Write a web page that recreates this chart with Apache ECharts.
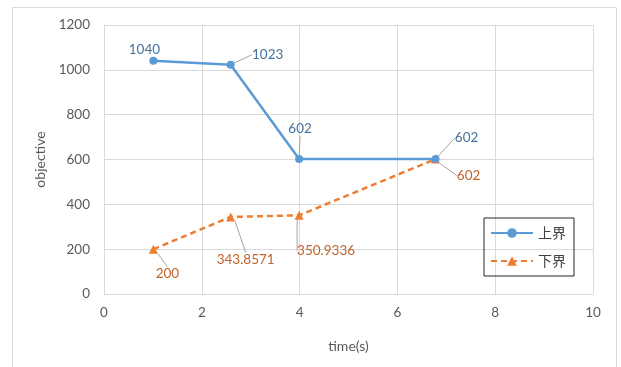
<!DOCTYPE html>
<html>
<head>
<meta charset="utf-8">
<script src="https://cdn.jsdelivr.net/npm/echarts@6/dist/echarts.min.js"></script>
<style>
  html, body { margin: 0; padding: 0; background: #fff; }
  #chart { width: 621px; height: 367px; }
</style>
</head>
<body>
<div id="chart"></div>
<script>
// Time (s) at which each bound was recorded
const times = [1.01, 2.59, 3.99, 6.78];
// Upper bound (上界) and lower bound (下界) of the objective
const upperBound = [1040, 1023, 602, 602];
const lowerBound = [200, 343.8571, 350.9336, 602];
const seriesNames = ['上界', '下界'];
const xTicks = { min: 0, max: 10, interval: 2 };
const yTicks = { min: 0, max: 1200, interval: 200 };

// Label offsets (dx, dy) from the default "top" label spot, per point
const upperLabelShift = [[-9, 5], [37, 6], [1, -14], [31, -5]];
const lowerLabelShift = [[14, 41], [15, 59], [27, 52], [33, 33]];
const upperLeader = [false, true, true, true];

const BLUE = '#5B9BD5';
const ORANGE = '#ED7D31';
const GRID = '#d9d9d9';
const TEXT = '#595959';
const FONT = 'Lato, "Noto Sans", sans-serif';
const FS = 13.5;

function pairs(xs, ys) { return xs.map((x, i) => [x, ys[i]]); }

const chart = echarts.init(document.getElementById('chart'), null, { renderer: 'canvas' });

chart.setOption({
  animation: false,
  backgroundColor: '#fff',
  textStyle: { fontFamily: FONT },
  graphic: [{
    type: 'rect',
    shape: { x: 12.5, y: 7.5, width: 604, height: 400 },
    style: { fill: 'none', stroke: '#d9d9d9', lineWidth: 1 },
    silent: true, z: -10
  }],
  grid: { left: 104, right: 28, top: 25, bottom: 73 },
  xAxis: {
    type: 'value', min: xTicks.min, max: xTicks.max, interval: xTicks.interval,
    name: 'time(s)', nameLocation: 'middle', nameGap: 45,
    nameTextStyle: { color: TEXT, fontSize: 14, fontFamily: FONT },
    axisLine: { show: true, lineStyle: { color: GRID } },
    axisTick: { show: false },
    axisLabel: { color: TEXT, fontSize: FS, margin: 12, fontFamily: FONT, formatter: v => String(v) },
    splitLine: { show: true, lineStyle: { color: GRID, width: 1 } }
  },
  yAxis: {
    type: 'value', min: yTicks.min, max: yTicks.max, interval: yTicks.interval,
    name: 'objective', nameLocation: 'middle', nameGap: 48, nameRotate: 90,
    nameTextStyle: { color: TEXT, fontSize: 14, fontFamily: FONT },
    axisLine: { show: true, lineStyle: { color: GRID } },
    axisTick: { show: false },
    axisLabel: { color: TEXT, fontSize: FS, margin: 14, fontFamily: FONT, formatter: v => String(v) },
    splitLine: { show: true, lineStyle: { color: GRID, width: 1 } }
  },
  legend: {
    orient: 'vertical',
    right: 47, top: 218,
    data: seriesNames,
    borderColor: '#262626', borderWidth: 1,
    padding: [8, 8, 8, 6],
    itemWidth: 42, itemHeight: 12, itemGap: 14,
    textStyle: { color: '#404040', fontSize: 14, fontFamily: '"Noto Sans CJK SC", sans-serif' }
  },
  series: [
    {
      name: seriesNames[0],
      type: 'line',
      data: pairs(times, upperBound).map((p, i) => ({
        value: p,
        labelLine: { show: upperLeader[i] }
      })),
      symbol: 'circle', symbolSize: 8,
      itemStyle: { color: BLUE },
      lineStyle: { color: BLUE, width: 2.5 },
      label: {
        show: true, position: 'top', distance: 5,
        color: '#44729E', fontSize: FS, fontFamily: FONT,
        formatter: p => String(p.value[1])
      },
      labelLine: { show: true, lineStyle: { color: '#a6a6a6', width: 1 } },
      labelLayout: p => ({ dx: upperLabelShift[p.dataIndex][0], dy: upperLabelShift[p.dataIndex][1] }),
      z: 3
    },
    {
      name: seriesNames[1],
      type: 'line',
      data: pairs(times, lowerBound),
      symbol: 'triangle', symbolSize: 9,
      itemStyle: { color: ORANGE },
      lineStyle: { color: ORANGE, width: 2.5, type: [6, 4] },
      label: {
        show: true, position: 'top', distance: 5,
        color: '#C0622A', fontSize: FS, fontFamily: FONT,
        formatter: p => String(p.value[1])
      },
      labelLine: { show: true, lineStyle: { color: '#a6a6a6', width: 1 } },
      labelLayout: p => ({ dx: lowerLabelShift[p.dataIndex][0], dy: lowerLabelShift[p.dataIndex][1] }),
      z: 2
    }
  ]
});
</script>
</body>
</html>
